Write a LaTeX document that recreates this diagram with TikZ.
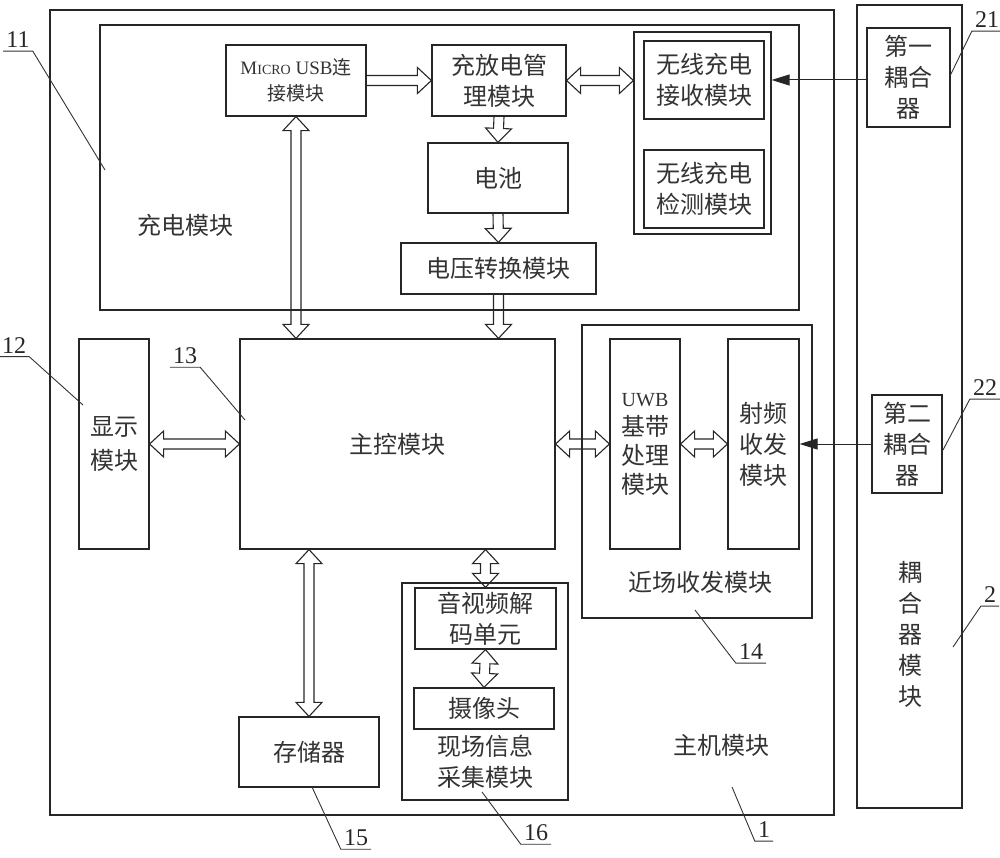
\documentclass[tikz,border=0pt]{standalone}
\usepackage{fontspec}
\setmainfont{Liberation Serif}
\newfontfamily\cjk{Noto Sans CJK SC}
\usetikzlibrary{calc,arrows.meta}
\newcommand\fs[2]{\fontsize{#1}{#2}\selectfont}
\newcommand\dblarrow[2]{%
 \coordinate (ba1) at ($(#1)!14pt!(#2)$);
 \coordinate (ba2) at ($(#2)!14pt!(#1)$);
 \draw[blockarrow] (#1) -- ($(ba1)!13pt!90:(#2)$) -- ($(ba1)!5pt!90:(#2)$) -- ($(ba2)!5pt!90:(#2)$) -- ($(ba2)!13pt!90:(#2)$) -- (#2) -- ($(ba2)!13pt!-90:(#2)$) -- ($(ba2)!5pt!-90:(#2)$) -- ($(ba1)!5pt!-90:(#2)$) -- ($(ba1)!13pt!-90:(#2)$) -- cycle;}
\newcommand\sglarrow[2]{%
 \coordinate (ba2) at ($(#2)!14pt!(#1)$);
 \draw[blockarrow] ($(#1)!5pt!90:(#2)$) -- ($(ba2)!5pt!90:(#2)$) -- ($(ba2)!13pt!90:(#2)$) -- (#2) -- ($(ba2)!13pt!-90:(#2)$) -- ($(ba2)!5pt!-90:(#2)$) -- ($(#1)!5pt!-90:(#2)$);}
\begin{document}
\begin{tikzpicture}[x=1pt,y=-1pt,
 box/.style={draw=black!85, line width=1.2pt, inner sep=0pt, align=center, font=\cjk\fs{24}{31}, text=black!80},
 lbl/.style={inner sep=0pt, align=center, font=\cjk\fs{24}{31}, text=black!80},
 num/.style={inner sep=3pt, font=\fs{24}{26}, text=black!85},
 leader/.style={draw=black!80, line width=0.9pt},
 blockarrow/.style={draw=black!85, line width=1.1pt, line join=miter},
 thinarrow/.style={draw=black!85, line width=1pt, -{Triangle[length=18pt,width=11pt]}}]
\useasboundingbox (0,0) rectangle (1000,858);

% containers
\node[box, minimum width=784pt, minimum height=805pt] (host) at (442,412.5) {};
\node[box, minimum width=105pt, minimum height=803pt] (coupmod) at (909.5,406.5) {};
\node[box, minimum width=699pt, minimum height=285pt] (charge) at (449.5,167.5) {};
\node[box, minimum width=137pt, minimum height=202pt] (wout) at (702.5,133) {};
\node[box, minimum width=230pt, minimum height=293pt] (nf) at (697,471.5) {};
\node[box, minimum width=166pt, minimum height=217pt] (fi) at (485,691.5) {};

% inner boxes
\node[box, minimum width=140pt, minimum height=71pt, font=\cjk\fs{19}{26}] (usb) at (296,80.5)
  {{\rmfamily M\fs{14}{26}ICRO\fs{19}{26} USB}连\\接模块};
\node[box, minimum width=134pt, minimum height=71pt] (cm) at (499,80.5) {充放电管\\理模块};
\node[box, minimum width=120pt, minimum height=78pt] (wr) at (704,80) {无线充电\\接收模块};
\node[box, minimum width=120pt, minimum height=78pt] (wd) at (704,189) {无线充电\\检测模块};
\node[box, minimum width=140pt, minimum height=70pt] (bat) at (498,178) {电池};
\node[box, minimum width=195pt, minimum height=51pt] (volt) at (498.5,268.5) {电压转换模块};
\node[box, minimum width=70pt, minimum height=210pt, font=\cjk\fs{24}{34}] (disp) at (114,444) {显示\\模块};
\node[box, minimum width=315pt, minimum height=210pt] (main) at (397.5,444) {主控模块};
\node[box, minimum width=70pt, minimum height=210pt, font=\cjk\fs{24}{29}] (uwb) at (645,444)
  {{\rmfamily\fs{20}{29}UWB}\\基带\\处理\\模块};
\node[box, minimum width=71pt, minimum height=210pt] (rf) at (763.5,444) {射频\\收发\\模块};
\node[box, minimum width=83pt, minimum height=99pt] (c1) at (908.5,77.5) {第一\\耦合\\器};
\node[box, minimum width=70pt, minimum height=98pt] (c2) at (907,444) {第二\\耦合\\器};
\node[box, minimum width=140pt, minimum height=70pt] (stor) at (309,752) {存储器};
\node[box, minimum width=141pt, minimum height=61pt] (av) at (485.5,618.5) {音视频解\\码单元};
\node[box, minimum width=140pt, minimum height=41pt] (cam) at (484,708.5) {摄像头};

% container texts
\node[lbl] (tcharge) at (185,225) {充电模块};
\node[lbl] (tnf) at (700,582) {近场收发模块};
\node[lbl] (tfi) at (485,762) {现场信息\\采集模块};
\node[lbl] (thost) at (721,745) {主机模块};
\node[lbl] (tcoup) at (910,634) {耦\\合\\器\\模\\块};

% block arrows
\sglarrow{usb.east}{cm.west}
\coordinate (wl) at (cm.east -| wout.west);
\dblarrow{cm.east}{wl}
\sglarrow{cm.south}{bat.north}
\sglarrow{bat.south}{volt.north}
\coordinate (vm) at (volt.south |- main.north);
\sglarrow{volt.south}{vm}
\coordinate (um) at (usb.south |- main.north);
\dblarrow{usb.south}{um}
\dblarrow{disp.east}{main.west}
\dblarrow{main.east}{uwb.west}
\dblarrow{uwb.east}{rf.west}
\coordinate (ms) at (stor.north |- main.south);
\dblarrow{ms}{stor.north}
\coordinate (ma) at (av.north |- main.south);
\dblarrow{ma}{av.north}
\dblarrow{av.south}{cam.north}

% thin arrows
\coordinate (a21s) at (c1.west |- wr.east);
\coordinate (a21e) at (wr.east -| wout.east);
\draw[thinarrow] (a21s) -- (a21e);
\draw[thinarrow] (c2.west) -- (rf.east);

% reference numbers
\node[num] (n11) at (18,40) {11};
\node[num] (n12) at (14,345.5) {12};
\node[num] (n13) at (185,356) {13};
\node[num] (n14) at (751,652) {14};
\node[num] (n1) at (764,830) {1};
\node[num] (n2) at (990,595) {2};
\node[num] (n21) at (987,20) {21};
\node[num] (n22) at (985,388) {22};
\node[num] (n15) at (356,838) {15};
\node[num] (n16) at (536,833) {16};
\coordinate (t11) at (105,170);
\coordinate (t12) at (83,405);
\coordinate (t13) at (245,420);
\coordinate (t14) at (695,610);
\coordinate (t1) at (732,787);
\coordinate (t2) at (953,647);
\coordinate (t21) at (950,76);
\coordinate (t22) at (943,450);
\coordinate (t15) at (312,787);
\coordinate (t16) at (482,792);
\draw[leader] (n11.south west) -- (n11.south east) -- (t11);
\draw[leader] (n12.south west) -- (n12.south east) -- (t12);
\draw[leader] (n13.south west) -- (n13.south east) -- (t13);
\draw[leader] (n14.south east) -- (n14.south west) -- (t14);
\draw[leader] (n1.south east) -- (n1.south west) -- (t1);
\draw[leader] (n2.south east) -- (n2.south west) -- (t2);
\draw[leader] (n21.south east) -- (n21.south west) -- (t21);
\draw[leader] (n22.south east) -- (n22.south west) -- (t22);
\draw[leader] (n15.south east) -- (n15.south west) -- (t15);
\draw[leader] (n16.south east) -- (n16.south west) -- (t16);
\end{tikzpicture}
\end{document}
